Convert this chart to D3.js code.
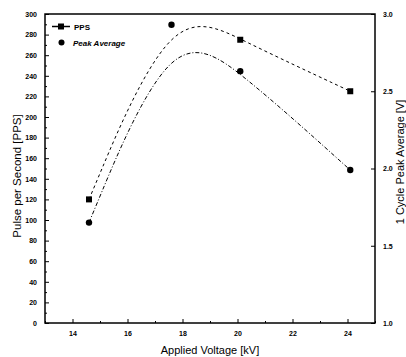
<!DOCTYPE html>
<html><head><meta charset="utf-8">
<script src="https://cdn.jsdelivr.net/npm/d3@7"></script>
<style>
html,body{margin:0;padding:0;background:#fff;}
text{font-family:"Liberation Sans",Arial,sans-serif;fill:#000;}
</style></head>
<body><svg id="c" width="406" height="357"></svg>
<script>
const voltage = [14.6, 17.6, 20.1, 24.1];
const pps = [120, 310, 275, 225];
const peakAvg = [1.65, 2.93, 2.63, 1.99];
const xTicks = [14, 16, 18, 20, 22, 24];
const yLeftTicks = d3.range(0, 301, 20);
const yRightTicks = [1.0, 1.5, 2.0, 2.5, 3.0];

const svg = d3.select("#c");
const L = 45, R = 375, T = 14, B = 323;
const x = d3.scaleLinear().domain([13, 25]).range([L, R]);
const yL = d3.scaleLinear().domain([0, 300]).range([B, T]);
const yR = d3.scaleLinear().domain([1, 3]).range([B, T]);

svg.append("clipPath").attr("id","clip").append("rect")
  .attr("x",L).attr("y",T).attr("width",R-L).attr("height",B-T);

// axes
const ax = svg.append("g").attr("transform",`translate(0,${B})`)
  .call(d3.axisBottom(x).tickValues(xTicks).tickSizeInner(-4).tickSizeOuter(0).tickPadding(8).tickFormat(d3.format("d")));
svg.append("g").attr("transform",`translate(0,${B})`)
  .call(d3.axisBottom(x).tickValues(d3.range(13,26,1).filter(v=>!xTicks.includes(v))).tickSizeInner(-2).tickSizeOuter(0).tickFormat(""));
const ayl = svg.append("g").attr("transform",`translate(${L},0)`)
  .call(d3.axisLeft(yL).tickValues(yLeftTicks).tickSizeInner(-4).tickSizeOuter(0).tickPadding(8).tickFormat(d3.format("d")));
svg.append("g").attr("transform",`translate(${L},0)`)
  .call(d3.axisLeft(yL).tickValues(d3.range(10,300,20)).tickSizeInner(-2).tickSizeOuter(0).tickFormat(""));
const ayr = svg.append("g").attr("transform",`translate(${R},0)`)
  .call(d3.axisRight(yR).tickValues(yRightTicks).tickSizeInner(-4).tickSizeOuter(0).tickPadding(8).tickFormat(d3.format(".1f")));
svg.selectAll(".domain").remove();
svg.selectAll(".tick line").attr("stroke","#000").attr("stroke-width",1);
svg.selectAll(".tick text").style("font-size","7px").style("font-weight","bold");

// frame
svg.append("rect").attr("x",L).attr("y",T).attr("width",R-L).attr("height",B-T)
  .attr("fill","none").attr("stroke","#000").attr("stroke-width",1.5);

// curves
const g = svg.append("g").attr("clip-path","url(#clip)");
const lineL = d3.line().x((d,i)=>x(voltage[i])).y(d=>yL(d)).curve(d3.curveBasis);
const lineR = d3.line().x((d,i)=>x(voltage[i])).y(d=>yR(d)).curve(d3.curveBasis);
g.append("path").attr("d",lineL(pps)).attr("fill","none").attr("stroke","#000")
  .attr("stroke-width",1).attr("stroke-dasharray","3,3");
g.append("path").attr("d",lineR(peakAvg)).attr("fill","none").attr("stroke","#000")
  .attr("stroke-width",1).attr("stroke-dasharray","4,2,1,2");
g.selectAll(".sq").data(pps).enter().append("rect")
  .attr("x",(d,i)=>x(voltage[i])-3).attr("y",d=>yL(d)-3).attr("width",6).attr("height",6).attr("fill","#000");
g.selectAll(".ci").data(peakAvg).enter().append("circle")
  .attr("cx",(d,i)=>x(voltage[i])).attr("cy",d=>yR(d)).attr("r",3.2).attr("fill","#000");

// legend
svg.append("line").attr("x1",52).attr("x2",70).attr("y1",26.5).attr("y2",26.5).attr("stroke","#000").attr("stroke-width",1.5);
svg.append("rect").attr("x",58).attr("y",23.5).attr("width",6).attr("height",6).attr("fill","#000");
svg.append("text").attr("x",74).attr("y",29.5).text("PPS").style("font-size","8px").style("font-weight","bold");
svg.append("circle").attr("cx",61.5).attr("cy",42.5).attr("r",3).attr("fill","#000");
svg.append("text").attr("x",73).attr("y",45.5).text("Peak Average").style("font-size","8px").style("font-weight","bold").style("font-style","italic");

// titles
svg.append("text").attr("x",210).attr("y",354).attr("text-anchor","middle").text("Applied Voltage [kV]").style("font-size","11px");
svg.append("text").attr("transform","translate(21,176) rotate(-90)").attr("text-anchor","middle").text("Pulse per Second [PPS]").style("font-size","11.5px");
svg.append("text").attr("transform","translate(404,162) rotate(-90)").attr("text-anchor","middle").text("1 Cycle Peak Average [V]").style("font-size","11px");
</script></body></html>
